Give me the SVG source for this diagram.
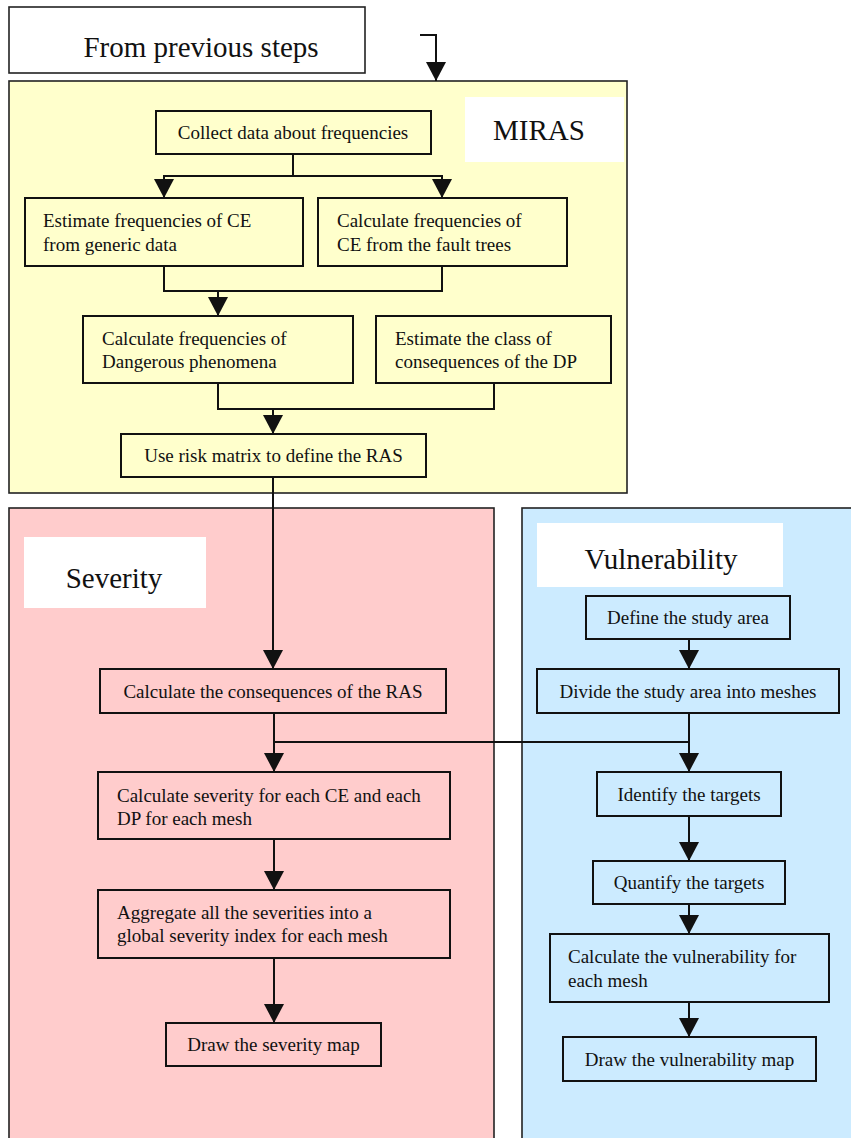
<svg xmlns="http://www.w3.org/2000/svg" width="851" height="1138" viewBox="0 0 851 1138">
<style>
  .panel { stroke: #222; stroke-width: 1.6; }
  .yellow { fill: #FFFFCC; }
  .pink { fill: #FFCCCC; }
  .blue { fill: #CCEBFF; }
  .label { fill: #FFFFFF; stroke: none; }
  .node { stroke: #111; stroke-width: 2; }
  .t { font-family: "Liberation Serif", "Times New Roman", serif; font-size: 19px; fill: #111; }
  .c { text-anchor: middle; }
  .big { font-family: "Liberation Serif", "Times New Roman", serif; font-size: 29px; fill: #111; }
  .conn path { fill: none; stroke: #111; stroke-width: 2; }
</style>
<defs>
  <marker id="arr" viewBox="0 -10 19 20" refX="19" refY="0" markerWidth="19" markerHeight="20" markerUnits="userSpaceOnUse" orient="auto">
    <path d="M0,-10 L19,0 L0,10 z" fill="#111"/>
  </marker>
</defs>

<rect width="851" height="1138" fill="#FFFFFF"/>

<g id="from-previous">
  <rect x="9" y="7" width="356" height="66" fill="#FFFFFF" class="panel"/>
  <text x="201" y="57" class="big c" font-size="28">From previous steps</text>
</g>

<g id="panel-miras">
  <rect x="9" y="81" width="618" height="412" class="panel yellow"/>
  <rect x="465" y="97" width="159" height="65" class="label"/>
  <text x="539" y="140" class="big c">MIRAS</text>
</g>

<g id="panel-severity">
  <rect x="9" y="508" width="485" height="640" class="panel pink"/>
  <rect x="24" y="537" width="182" height="71" class="label"/>
  <text x="114" y="588" class="big c">Severity</text>
</g>

<g id="panel-vulnerability">
  <rect x="522" y="508" width="340" height="640" class="panel blue"/>
  <rect x="537" y="523" width="246" height="64" class="label"/>
  <text x="661" y="569" class="big c">Vulnerability</text>
</g>

<g id="connectors" class="conn">
  <path d="M420,35 H436 V81" marker-end="url(#arr)"/>
  <path d="M293,154 V176"/>
  <path d="M293,176 H164 V198" marker-end="url(#arr)"/>
  <path d="M293,176 H442 V198" marker-end="url(#arr)"/>
  <path d="M164,266 V291 H442 V266"/>
  <path d="M218,291 V316" marker-end="url(#arr)"/>
  <path d="M218,383 V409 H494 V383"/>
  <path d="M273,409 V434" marker-end="url(#arr)"/>
  <path d="M273,477 V669" marker-end="url(#arr)"/>
  <path d="M689,639 V669" marker-end="url(#arr)"/>
  <path d="M274,713 V772" marker-end="url(#arr)"/>
  <path d="M274,742 H689"/>
  <path d="M689,713 V772" marker-end="url(#arr)"/>
  <path d="M274,839 V890" marker-end="url(#arr)"/>
  <path d="M274,958 V1023" marker-end="url(#arr)"/>
  <path d="M689,816 V861" marker-end="url(#arr)"/>
  <path d="M689,904 V934" marker-end="url(#arr)"/>
  <path d="M689,1002 V1037" marker-end="url(#arr)"/>
</g>

<g id="n-collect">
  <rect x="156" y="111" width="275" height="43" class="node yellow"/>
  <text x="293" y="139" class="t c">Collect data about frequencies</text>
</g>
<g id="n-estimate-ce">
  <rect x="25" y="198" width="278" height="68" class="node yellow"/>
  <text x="43" y="227" class="t">Estimate frequencies of CE</text>
  <text x="43" y="251" class="t">from generic data</text>
</g>
<g id="n-calc-ce">
  <rect x="318" y="198" width="249" height="68" class="node yellow"/>
  <text x="337" y="227" class="t">Calculate frequencies of</text>
  <text x="337" y="251" class="t">CE from the fault trees</text>
</g>
<g id="n-calc-dp">
  <rect x="83" y="316" width="270" height="67" class="node yellow"/>
  <text x="102" y="345" class="t">Calculate frequencies of</text>
  <text x="102" y="368" class="t">Dangerous phenomena</text>
</g>
<g id="n-estimate-class">
  <rect x="376" y="316" width="235" height="67" class="node yellow"/>
  <text x="395" y="345" class="t">Estimate the class of</text>
  <text x="395" y="368" class="t">consequences of the DP</text>
</g>
<g id="n-risk-matrix">
  <rect x="121" y="434" width="305" height="43" class="node yellow"/>
  <text x="273.5" y="462" class="t c">Use risk matrix to define the RAS</text>
</g>

<g id="n-consequences">
  <rect x="100" y="669" width="346" height="44" class="node pink"/>
  <text x="273" y="698" class="t c">Calculate the consequences of the RAS</text>
</g>
<g id="n-severity-each">
  <rect x="98" y="772" width="352" height="67" class="node pink"/>
  <text x="117" y="802" class="t">Calculate severity for each CE and each</text>
  <text x="117" y="825" class="t">DP for each mesh</text>
</g>
<g id="n-aggregate">
  <rect x="98" y="890" width="352" height="68" class="node pink"/>
  <text x="117" y="919" class="t">Aggregate all the severities into a</text>
  <text x="117" y="942" class="t">global severity index for each mesh</text>
</g>
<g id="n-severity-map">
  <rect x="166" y="1023" width="215" height="43" class="node pink"/>
  <text x="273.5" y="1051" class="t c">Draw the severity map</text>
</g>

<g id="n-define-area">
  <rect x="586" y="596" width="204" height="43" class="node blue"/>
  <text x="688" y="624" class="t c">Define the study area</text>
</g>
<g id="n-divide">
  <rect x="537" y="669" width="302" height="44" class="node blue"/>
  <text x="688" y="698" class="t c">Divide the study area into meshes</text>
</g>
<g id="n-identify">
  <rect x="597" y="772" width="184" height="44" class="node blue"/>
  <text x="689" y="801" class="t c">Identify the targets</text>
</g>
<g id="n-quantify">
  <rect x="593" y="861" width="192" height="43" class="node blue"/>
  <text x="689" y="889" class="t c">Quantify the targets</text>
</g>
<g id="n-vulnerability-each">
  <rect x="550" y="934" width="279" height="68" class="node blue"/>
  <text x="568" y="963" class="t">Calculate the vulnerability for</text>
  <text x="568" y="987" class="t">each mesh</text>
</g>
<g id="n-vulnerability-map">
  <rect x="563" y="1037" width="253" height="44" class="node blue"/>
  <text x="689.5" y="1066" class="t c">Draw the vulnerability map</text>
</g>
</svg>
